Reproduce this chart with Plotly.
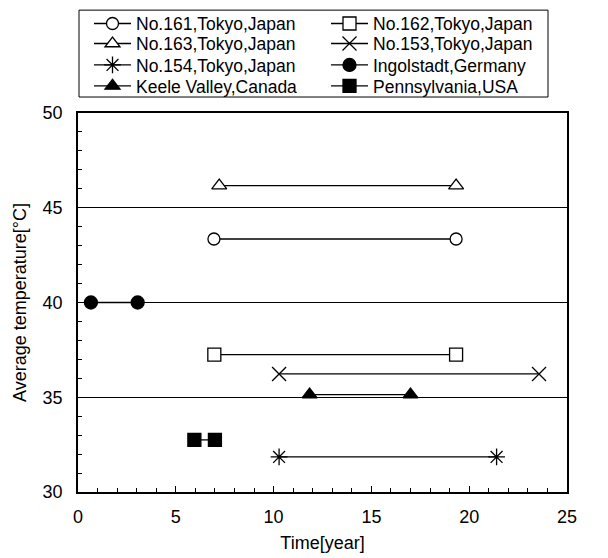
import plotly.graph_objects as go

names = ["No.161,Tokyo,Japan", "No.162,Tokyo,Japan", "No.163,Tokyo,Japan",
         "No.153,Tokyo,Japan", "No.154,Tokyo,Japan", "Ingolstadt,Germany",
         "Keele Valley,Canada", "Pennsylvania,USA"]
x161 = [6.95, 19.33]; y161 = [43.35, 43.35]
x162 = [6.97, 19.33]; y162 = [37.25, 37.25]
x163 = [7.22, 19.33]; y163 = [46.17, 46.17]
x153 = [10.28, 23.57]; y153 = [36.23, 36.23]
x154 = [10.28, 21.40]; y154 = [31.85, 31.85]
xIng = [0.66, 3.05]; yIng = [40.0, 40.0]
xKee = [11.84, 17.00]; yKee = [35.14, 35.14]
xPen = [5.95, 7.00]; yPen = [32.75, 32.75]

FONT = "Liberation Sans, Arial, sans-serif"
# (name, x, y, symbol, fill, size, column, row)
series = [
    (names[0], x161, y161, "circle", "white", 12, 0, 0),
    (names[1], x162, y162, "square", "white", 13, 1, 0),
    (names[2], x163, y163, "triangle-up", "white", 13, 0, 1),
    (names[3], x153, y153, "x-thin-open", "black", 14, 1, 1),
    (names[4], x154, y154, "asterisk-open", "black", 14, 0, 2),
    (names[5], xIng, yIng, "circle", "black", 13, 1, 2),
    (names[6], xKee, yKee, "triangle-up", "black", 13, 0, 3),
    (names[7], xPen, yPen, "square", "black", 13, 1, 3),
]

# plot area geometry in pixels (for paper coordinate conversion)
L, R, T, B, W, H = 78, 41, 113, 65.5, 608, 558
pw, ph = W - L - R, H - T - B

def px_to_paper_x(px):
    return (px - L) / pw

def px_to_paper_y(py):
    return (H - B - py) / ph

fig = go.Figure()
legends = {}
col_left = [89, 326]
row_top = [5.5, 25.5, 47, 68]
for i, (nm, xs, ys, sym, fill, sz, col, row) in enumerate(series):
    lg = "legend" if i == 0 else f"legend{i + 1}"
    fig.add_trace(go.Scatter(
        x=xs, y=ys, name=nm, mode="lines+markers", legend=lg,
        line=dict(color="black", width=1.3),
        marker=dict(symbol=sym, size=sz, color=fill,
                    line=dict(color="black", width=1.3)),
    ))
    legends[lg] = dict(
        x=px_to_paper_x(col_left[col]), y=px_to_paper_y(row_top[row]),
        xanchor="left", yanchor="top", bgcolor="rgba(0,0,0,0)", borderwidth=0,
        font=dict(family=FONT, size=17.5, color="black"), itemwidth=37,
    )

axis_common = dict(
    showline=True, linecolor="black", linewidth=1.5, mirror=True,
    ticks="inside", ticklen=6, tickcolor="black", tickwidth=1.3,
    tickfont=dict(family=FONT, size=18, color="black"),
    zeroline=False, automargin=False,
    minor=dict(ticks="inside", ticklen=4, dtick=1, tickcolor="black", tickwidth=1.2, showgrid=False),
)

fig.update_xaxes(range=[0, 25], dtick=5, tick0=0, showgrid=False,
                 ticklabelstandoff=8,
                 title=dict(text="Time[year]", font=dict(family=FONT, size=18, color="black"), standoff=10),
                 **axis_common)
fig.update_yaxes(range=[30, 50], dtick=5, tick0=30, showgrid=True, gridcolor="black", gridwidth=1.3,
                 ticklabelstandoff=10,
                 title=dict(text="Average temperature[°C]", font=dict(family=FONT, size=18, color="black"), standoff=11),
                 **axis_common)

fig.update_layout(
    width=W, height=H,
    margin=dict(l=L, r=R, t=T, b=B, autoexpand=False),
    paper_bgcolor="white", plot_bgcolor="white",
    showlegend=True,
    shapes=[dict(type="rect", xref="paper", yref="paper",
                 x0=px_to_paper_x(79), x1=px_to_paper_x(548),
                 y0=px_to_paper_y(97), y1=px_to_paper_y(10),
                 line=dict(color="black", width=1), fillcolor="rgba(0,0,0,0)")],
    **legends,
)

fig.write_html("out.html")
